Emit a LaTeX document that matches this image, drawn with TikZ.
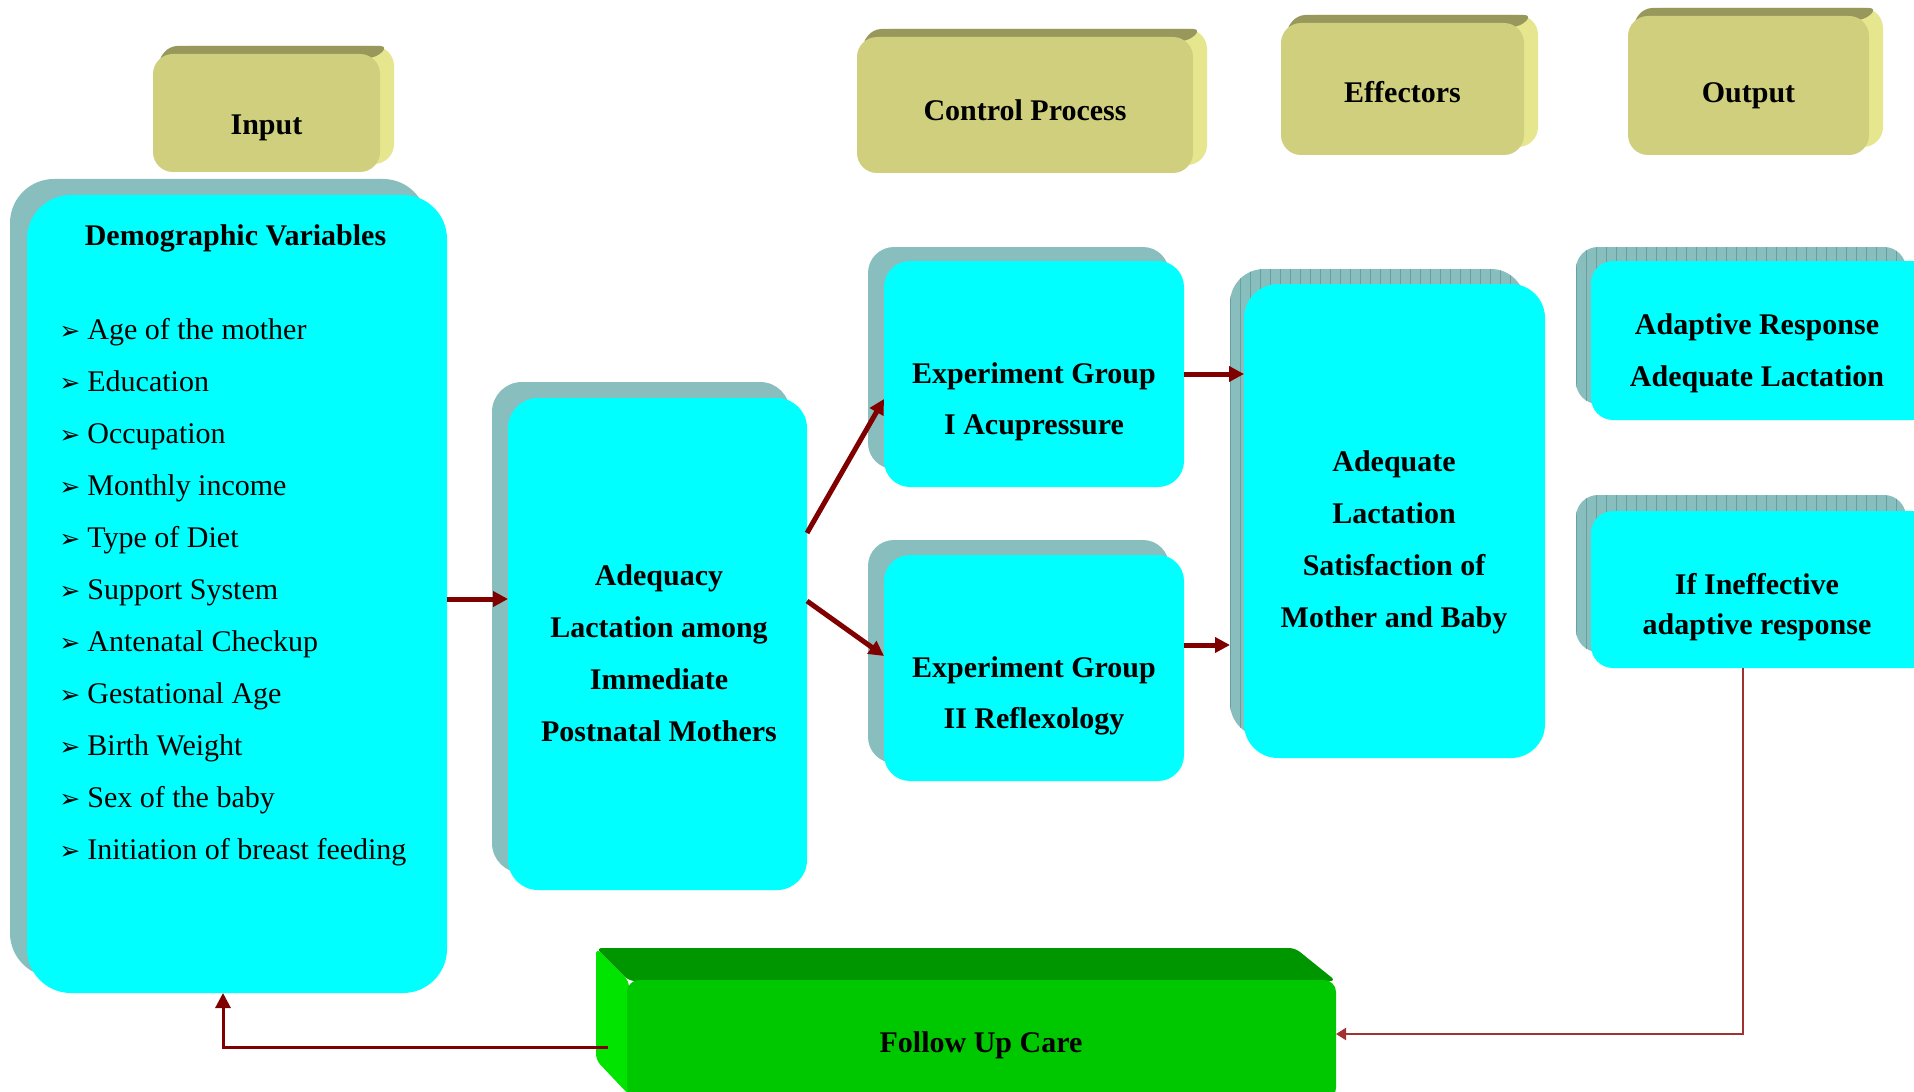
\documentclass[tikz,border=0pt]{standalone}
\usepackage{fontspec}
\setmainfont{Liberation Serif}
\newfontfamily\dejavu{DejaVu Sans}
\usetikzlibrary{arrows.meta,calc}
\definecolor{boxc}{RGB}{0,255,255}
\definecolor{shadowc}{RGB}{136,190,190}
\definecolor{stripec}{RGB}{104,160,160}
\definecolor{olvF}{RGB}{207,207,125}
\definecolor{olvT}{RGB}{152,152,92}
\definecolor{olvR}{RGB}{230,230,142}
\definecolor{arrowc}{RGB}{128,0,0}
\definecolor{thinc}{RGB}{160,50,50}
\definecolor{grF}{RGB}{0,200,0}
\definecolor{grT}{RGB}{0,150,0}
\definecolor{grL}{RGB}{0,228,0}
\newcommand\bul{{\dejavu\fontsize{12.5}{12.5}\selectfont ➢}}
\newcommand\olvbox[7]{%
  \fill[olvR, rounded corners=10pt] ({#2+14},{#3-8}) rectangle ({#4+14},{#5-8});
  \fill[olvT, rounded corners=4pt] ({#2+4},{#3+8}) -- ({#2+16},{#3-8}) -- ({#4+8},{#3-8}) -- ({#4-4},{#3+4}) -- cycle;
  \fill[olvF, rounded corners=10pt] (#2,#3) rectangle (#4,#5);
  \node[hd] (#1) at ({(#2+#4)/2},#6) {#7};
}
\begin{document}
\begin{tikzpicture}[x=0.5pt,y=-0.5pt,
  cyanbox/.style={fill=boxc, draw=none, inner sep=0pt, outer sep=0pt},
  shadebox/.style={fill=shadowc, draw=none, inner sep=0pt, outer sep=0pt},
  striped/.style={path picture={\foreach \k in {0,...,70}{\draw[stripec, line width=0.5pt] ([xshift=\k*5pt]path picture bounding box.north west) -- ([xshift=\k*5pt]path picture bounding box.south west);}}},
  hd/.style={font=\bfseries\fontsize{15}{26}\selectfont, align=center, inner sep=0pt},
  item/.style={font=\fontsize{15}{18}\selectfont, anchor=base west, inner sep=0pt},
  arr/.style={draw=arrowc, line width=2.5pt, -{Triangle[length=7.5pt,width=7.5pt]}},
  backarr/.style={draw=arrowc, line width=1.5pt, -{Triangle[length=7.5pt,width=7.5pt]}},
  thinarr/.style={draw=thinc, line width=1pt, -{Triangle[length=5pt,width=6pt]}}
]
\useasboundingbox (0,0) rectangle (1914,1091);
\fill[white] (0,0) rectangle (1914,1091);

% olive header boxes
\olvbox{input}{153}{54}{380}{172}{128}{Input}
\olvbox{ctrl}{857}{37}{1193}{173}{110}{Control Process}
\olvbox{effr}{1281}{23}{1524}{155}{92}{Effectors}
\olvbox{outp}{1628}{16}{1869}{155}{96}{Output}

% cyan boxes with shadows
\node[shadebox, minimum width=208.5pt, minimum height=399pt, rounded corners=22pt] (demoS) at (218.5,578) {};
\node[cyanbox, minimum width=210pt, minimum height=399pt, rounded corners=22pt] (demo) at (237,594) {};

\node[shadebox, minimum width=149pt, minimum height=245.5pt, rounded corners=15pt] (adeqS) at (641,627.5) {};
\node[cyanbox, minimum width=149.5pt, minimum height=246pt, rounded corners=15pt] (adeq) at (657.5,644) {};

\node[shadebox, minimum width=150.5pt, minimum height=111pt, rounded corners=13pt] (expIS) at (1018.5,358) {};
\node[cyanbox, minimum width=150pt, minimum height=113pt, rounded corners=13pt] (expI) at (1034,374) {};

\node[shadebox, minimum width=150.5pt, minimum height=111.5pt, rounded corners=13pt] (expIIS) at (1018.5,651.5) {};
\node[cyanbox, minimum width=150pt, minimum height=113pt, rounded corners=13pt] (expII) at (1034,668) {};

\node[shadebox, striped, minimum width=147.5pt, minimum height=234pt, rounded corners=17pt] (effcS) at (1377.5,503) {};
\node[cyanbox, minimum width=150.5pt, minimum height=237pt, rounded corners=17pt] (effc) at (1394.5,521) {};

\node[shadebox, striped, minimum width=165pt, minimum height=78.5pt, rounded corners=11pt] (adaptS) at (1741,325.5) {};
\node[cyanbox, minimum width=172pt, minimum height=79.5pt, rounded corners=11pt] (adapt) at (1763,340.5) {};

\node[shadebox, striped, minimum width=165pt, minimum height=78.5pt, rounded corners=11pt] (ineffS) at (1741,573.5) {};
\node[cyanbox, minimum width=172pt, minimum height=78.5pt, rounded corners=11pt] (ineff) at (1763,589.5) {};

% green follow-up box
\fill[grT, rounded corners=3pt] (596,948) -- (1295,948) -- (1336,981) -- (629,981) -- cycle;
\fill[grL, rounded corners=3pt] (596,948) -- (629,981) -- (629,1095) -- (596,1060) -- cycle;
\node[fill=grF, inner sep=0pt, outer sep=0pt, minimum width=354.5pt, minimum height=60pt, rounded corners=6pt] (follow) at (981.5,1040) {};
\node[hd] (followT) at (981,1045) {Follow Up Care};

% texts
\node[hd] (demoT) at (235.5,238.5) {Demographic Variables};
\foreach \t [count=\i from 0] in {Age of the mother, Education, Occupation, Monthly income, Type of Diet, Support System, Antenatal Checkup, Gestational Age, Birth Weight, Sex of the baby, Initiation of breast feeding}
  \node[item] (it\i) at (59,{339+52*\i}) {\makebox[14pt][l]{\bul}\t};

\node[hd] (adeqT) at (659,653) {Adequacy\\Lactation among\\Immediate\\Postnatal Mothers};
\node[hd, font=\bfseries\fontsize{15}{25.5}\selectfont] (expIT) at (1034,402) {Experiment Group\\I Acupressure};
\node[hd, font=\bfseries\fontsize{15}{25.5}\selectfont] (expIIT) at (1034,695.5) {Experiment Group\\II Reflexology};
\node[hd] (effcT) at (1394,542.5) {Adequate\\Lactation\\Satisfaction of\\Mother and Baby};
\node[hd] (adaptT) at (1757,353.5) {Adaptive Response\\Adequate Lactation};
\node[hd, font=\bfseries\fontsize{15}{20}\selectfont] (ineffT) at (1757,607.5) {If Ineffective\\adaptive response};

% connectors
\draw[arr] ([yshift=-2.5pt]demo.east) -- ([yshift=22.5pt]adeq.west);
\draw[arr] ([yshift=55.5pt]adeq.east) -- ([yshift=-12.5pt]expI.west);
\draw[arr] ([yshift=21.5pt]adeq.east) -- ([yshift=6pt]expII.west);
\draw[arr] (expI.east) -- ([yshift=73.5pt]effc.west);
\draw[arr] ([yshift=11.5pt]expII.east) -- ([xshift=-7pt,yshift=-62pt]effc.west);
\draw[thinarr] ([xshift=-10pt]ineff.south) |- ([yshift=3pt]follow.east);
\coordinate (fuTurn) at (223,1047);
\draw[backarr] ([xshift=-9.5pt,yshift=-3.5pt]follow.west) -- (fuTurn) -- (demo.south -| fuTurn);
\end{tikzpicture}
\end{document}
